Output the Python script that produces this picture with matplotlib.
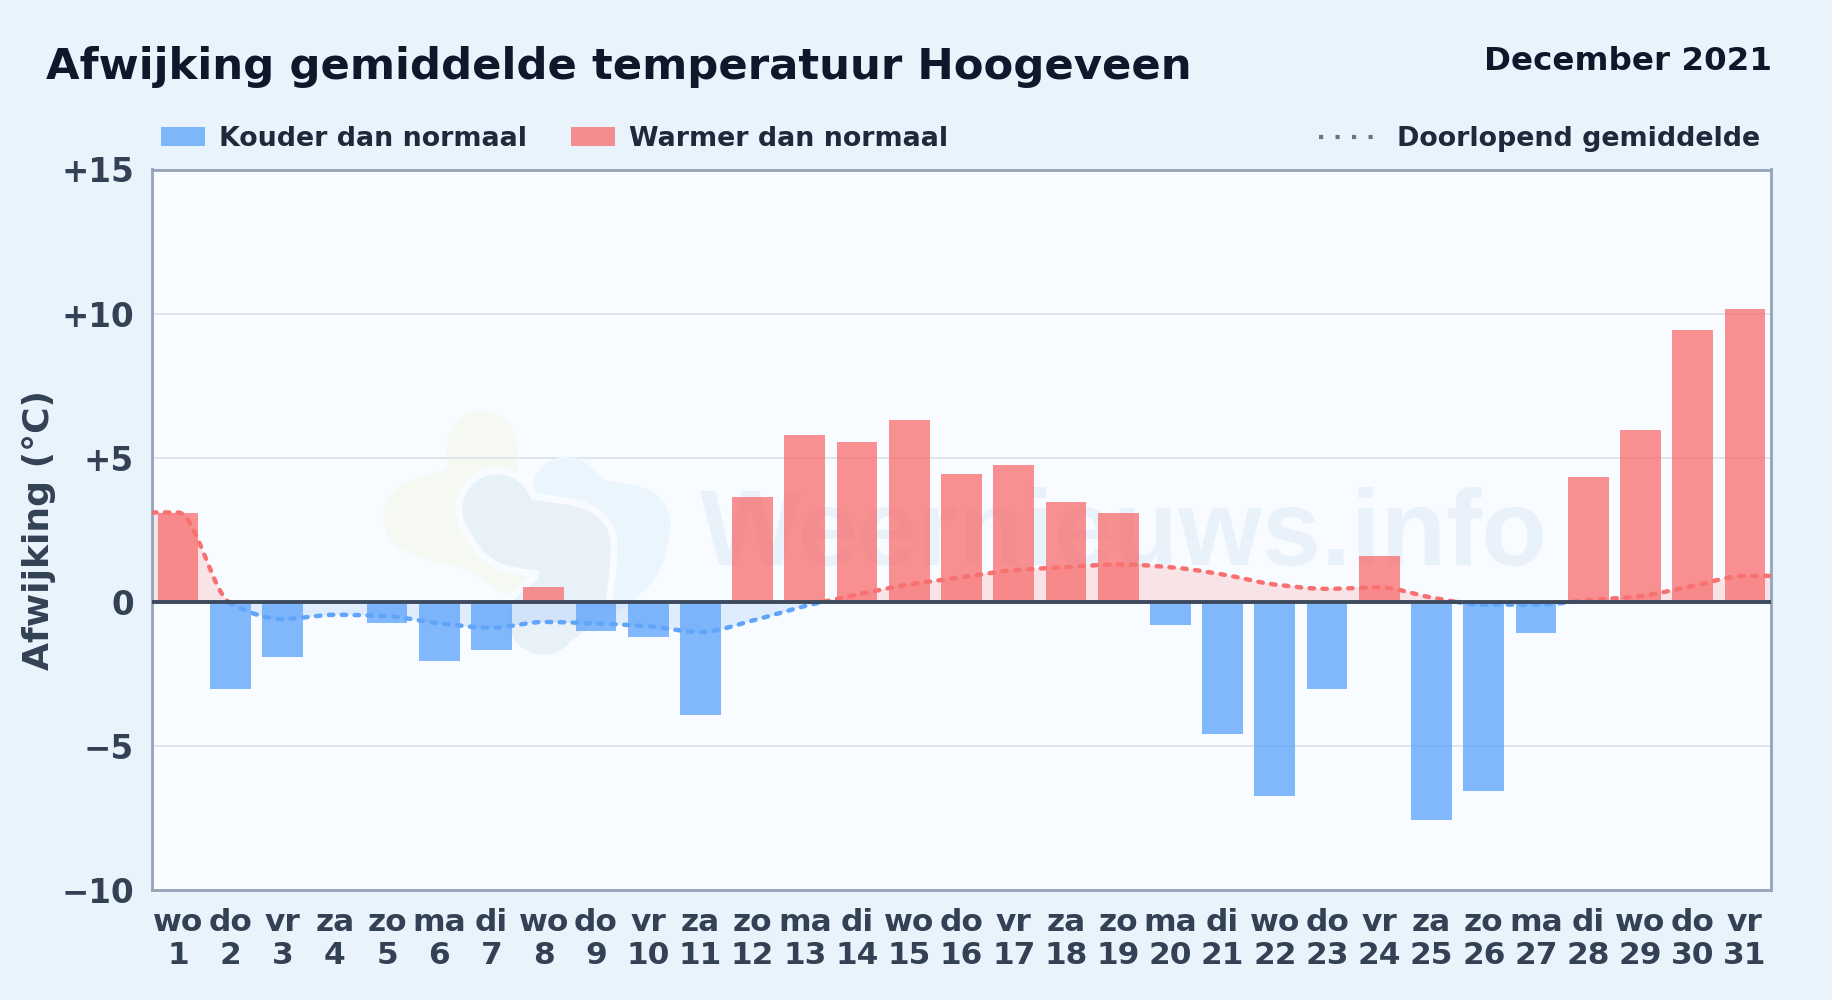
import numpy as np
import matplotlib
matplotlib.use("Agg")
import matplotlib.pyplot as plt
from matplotlib.patches import Patch
from matplotlib.lines import Line2D

title = "Afwijking gemiddelde temperatuur Hoogeveen"
period = "December 2021"
weekdays = ["wo","do","vr","za","zo","ma","di","wo","do","vr","za","zo","ma","di","wo","do",
            "vr","za","zo","ma","di","wo","do","vr","za","zo","ma","di","wo","do","vr"]
days = list(range(1, 32))
deviation = [3.08,-3.04,-1.92,0,-0.72,-2.04,-1.68,0.5,-1.02,-1.22,-3.92,3.65,5.78,5.55,6.3,4.45,
             4.75,3.48,3.08,-0.82,-4.58,-6.73,-3.04,1.6,-7.58,-6.58,-1.08,4.33,5.95,9.42,10.15]
running = [3.1,-0.05,-0.6,-0.45,-0.5,-0.75,-0.9,-0.7,-0.75,-0.85,-1.05,-0.65,-0.15,0.25,0.6,0.85,
           1.1,1.2,1.3,1.2,0.95,0.6,0.45,0.5,0.15,-0.1,-0.1,0.05,0.2,0.55,0.9]
y_ticks = [-10,-5,0,5,10,15]
y_tick_labels = ["\u221210","\u22125","0","+5","+10","+15"]

W, H = 1832, 1000
BG, PLOT = "#e8f3fc", "#f8fbff"
RED, BLUE = "#f87171", "#60a5fa"
INK, DARK, SLATE = "#0f172a", "#1e293b", "#334155"

def monotone(x, y, n=40):
    x, y = np.asarray(x, float), np.asarray(y, float)
    h = np.diff(x); d = np.diff(y) / h
    m = np.zeros_like(y)
    m[0], m[-1] = d[0], d[-1]
    for i in range(1, len(y) - 1):
        m[i] = 0 if d[i-1] * d[i] <= 0 else 2 * d[i-1] * d[i] / (d[i-1] + d[i])
    xs, ys = [], []
    for i in range(len(h)):
        t = np.linspace(0, 1, n, endpoint=False)
        a = (1 + 2*t) * (1 - t)**2; b = t * (1 - t)**2
        c = t**2 * (3 - 2*t); e = t**2 * (t - 1)
        xs.append(x[i] + t*h[i])
        ys.append(a*y[i] + b*h[i]*m[i] + c*y[i+1] + e*h[i]*m[i+1])
    return np.r_[np.concatenate(xs), x[-1]], np.r_[np.concatenate(ys), y[-1]]

plt.rcParams["font.family"] = "DejaVu Sans"
plt.rcParams["font.weight"] = "bold"
fig = plt.figure(figsize=(W/100, H/100), dpi=100, facecolor=BG)
L, R, T, B = 152, 1771, 169.5, 890
ax = fig.add_axes([L/W, 1-B/H, (R-L)/W, (B-T)/H], facecolor=PLOT)

# watermark logo (figure pixels)
def blob(pts, col, lw, z=0.5):
    p = np.array(pts, float)
    t = np.arange(len(p))
    _, xs = monotone(t, p[:, 0] / W)
    _, ys = monotone(t, 1 - p[:, 1] / H)
    ax.plot(xs, ys, transform=fig.transFigure, color=col, lw=lw, zorder=z,
            solid_capstyle="round", solid_joinstyle="round")
green = [(482,446),(482,490),(418,517),(480,538),(515,560)]
blue = [(566,490),(590,510),(637,523),(630,555),(602,583)]
grey = [(497,509),(512,530),(576,545),(572,590),(543,620)]
blob(green, "#f5f9f1", 50)
blob(blue, "#ebf5fe", 48, 0.52)
blob(grey, PLOT, 60, 0.54)
blob(grey, "#e8f0f8", 50, 0.56)
ax.text((1124-L)/(R-L), (B-565)/(B-T), "Weernieuws.info", transform=ax.transAxes, ha="center", va="baseline",
        fontsize=77, family="Liberation Sans", weight="bold", color="#e9f2fa", zorder=0.6)

ax.set_xlim(0.5, 31.5)
ax.set_ylim(-10, 15)
ax.set_yticks(y_ticks, y_tick_labels)
ax.set_xticks(days, [f"{w}\n{d}" for w, d in zip(weekdays, days)])
ax.tick_params(length=0, labelcolor=SLATE)
ax.tick_params(axis="y", labelsize=23.5, pad=13)
ax.tick_params(axis="x", labelsize=22.5, pad=13)
for lab in ax.get_xticklabels():
    lab.set_linespacing(1.18)
ax.grid(axis="y", color="#dfe5ea", lw=1.4, zorder=1)
ax.set_axisbelow(True)
for s in ax.spines.values():
    s.set_color("#94a3b8"); s.set_linewidth(2)

colors = [RED if v > 0 else BLUE for v in deviation]
ax.bar(days, deviation, width=0.78, color=colors, alpha=0.78, zorder=2)

xr = [0.5] + days + [31.5]
yr = [running[0]] + running + [running[-1]]
xd, yd = monotone(xr, yr)
ax.fill_between(xd, yd, 0, where=yd >= 0, interpolate=True, color=RED, alpha=0.17, lw=0, zorder=2.2)
ax.fill_between(xd, yd, 0, where=yd <= 0, interpolate=True, color=BLUE, alpha=0.17, lw=0, zorder=2.2)
dash = dict(lw=3.2, dashes=(1.0, 1.9), dash_capstyle="round", zorder=3)
ax.plot(xd, np.ma.masked_less(yd, 0), color=RED, **dash)
ax.plot(xd, np.ma.masked_greater(yd, 0), color=BLUE, **dash)
ax.axhline(0, color="#3d4a5e", lw=2.8, zorder=4)

ax.set_ylabel("Afwijking (\u00b0C)", fontsize=26, color=SLATE, fontweight="bold")
ax.yaxis.set_label_coords((56-L)/(R-L), (B-530)/(B-T))

fig.text(46/W, 1-67/H, title, fontsize=31.2, color=INK, ha="left", va="center")
fig.text(1772/W, 1-62/H, period, fontsize=23.4, color=INK, ha="right", va="center")

leg1 = ax.legend(handles=[Patch(facecolor=BLUE, alpha=0.78, lw=0, label="Kouder dan normaal"),
                          Patch(facecolor=RED, alpha=0.78, lw=0, label="Warmer dan normaal")],
                 ncol=2, frameon=False, fontsize=19.4, labelcolor=DARK, loc="center left",
                 bbox_to_anchor=(161/W, 1-139/H), bbox_transform=fig.transFigure,
                 handlelength=1.64, handleheight=0.74, handletextpad=0.5, columnspacing=1.64,
                 borderpad=0, borderaxespad=0)
ax.add_artist(leg1)
ax.legend(handles=[Line2D([], [], color="#64748b", lw=3, dashes=(1.0, 2.96), label="Doorlopend gemiddelde")],
          frameon=False, fontsize=19.4, labelcolor=DARK, loc="center right",
          bbox_to_anchor=(1760/W, 1-139/H), bbox_transform=fig.transFigure,
          handlelength=2.1, handletextpad=0.78, borderpad=0, borderaxespad=0)

fig.savefig("out.png", dpi=100, facecolor=BG)
